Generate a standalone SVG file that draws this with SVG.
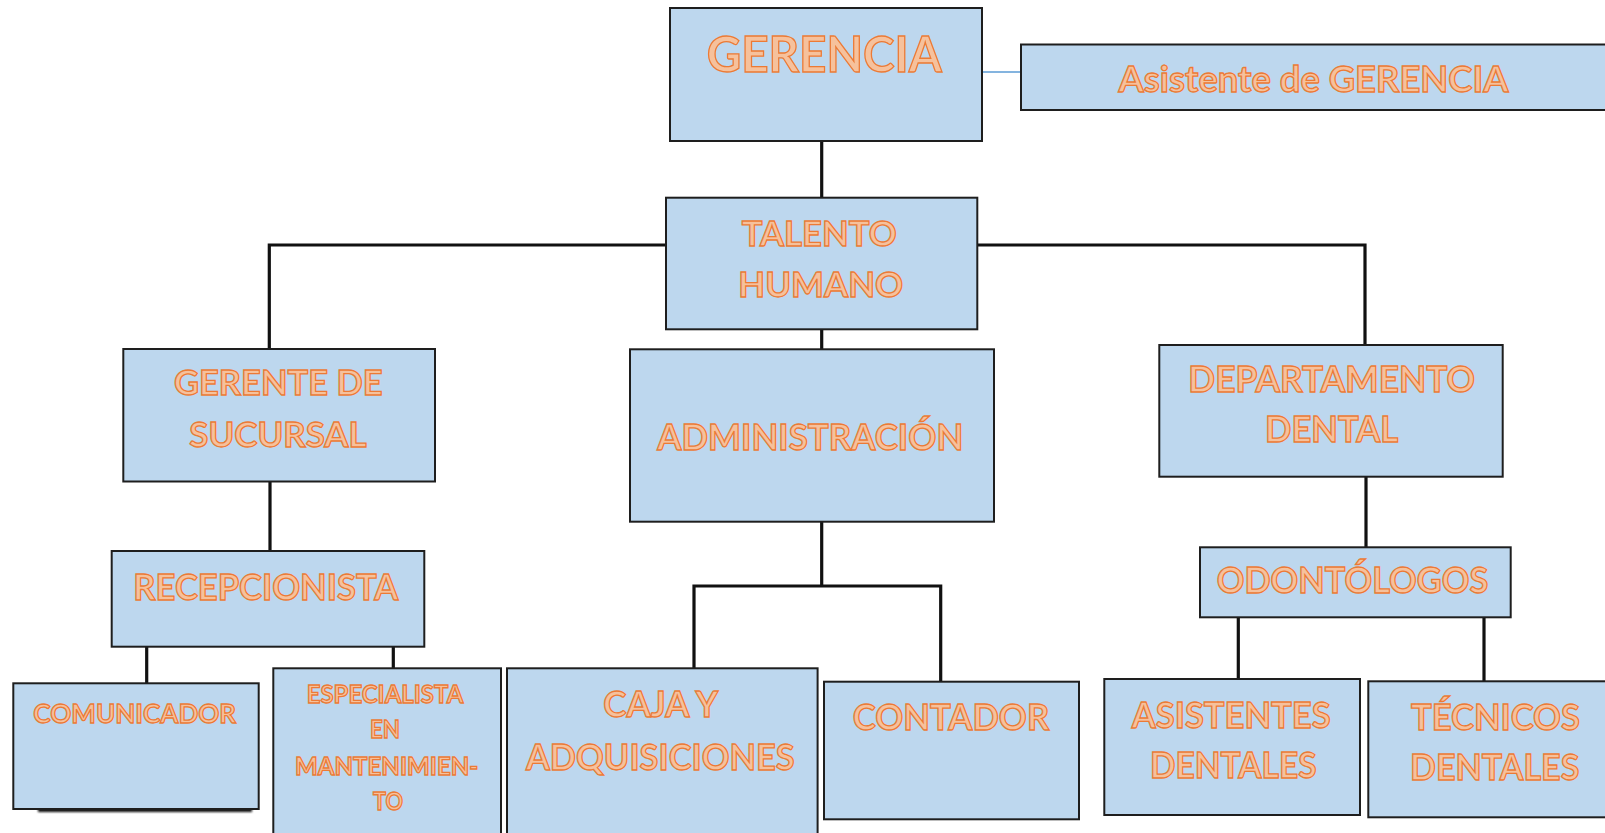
<svg xmlns="http://www.w3.org/2000/svg" width="1605" height="833" viewBox="0 0 1605 833">
<defs>
<style>
.box{fill:#bdd7ee;stroke:#1e1e1e;stroke-width:2}
.con{fill:none;stroke:#111;stroke-width:3.2;stroke-linejoin:miter}
.t{font-family:Lato,"Open Sans","Liberation Sans",sans-serif;fill:#f6c19c;stroke:#ec7a35;stroke-width:1.3;text-anchor:middle;font-weight:bold}
</style>
<filter id="blur" x="-10%" y="-200%" width="120%" height="500%"><feGaussianBlur stdDeviation="1.2"/></filter>
</defs>
<rect width="1605" height="833" fill="#fff"/>
<g id="connectors">
<line x1="982" y1="72" x2="1021" y2="72" stroke="#5b9bd5" stroke-width="1.6"/>
<path class="con" d="M821.7 141 V197.7"/>
<path class="con" d="M666 245 H269.3 V349"/>
<path class="con" d="M977.3 245 H1365 V345"/>
<path class="con" d="M821.7 329.3 V349.3"/>
<path class="con" d="M270 481.5 V551"/>
<path class="con" d="M146.7 646.7 V683.3"/>
<path class="con" d="M393.3 646.7 V668.3"/>
<path class="con" d="M821.7 521.7 V586 M694 668.3 V586 H940.7 V681.7"/>
<path class="con" d="M1366 476.7 V547.3"/>
<path class="con" d="M1238.3 617.3 V679"/>
<path class="con" d="M1484 617.3 V681.3"/>
</g>
<g id="gerencia">
<rect class="box" x="670" y="8" width="312" height="133"/>
<text class="t" x="824.2" y="71.7" font-size="49" textLength="235" lengthAdjust="spacingAndGlyphs">GERENCIA</text>
</g>
<g id="asistente-gerencia">
<rect class="box" x="1021" y="44.5" width="600" height="65.5"/>
<text class="t" x="1313.5" y="91.7" font-size="36" textLength="390" lengthAdjust="spacingAndGlyphs">Asistente de GERENCIA</text>
</g>
<g id="talento-humano">
<rect class="box" x="666" y="197.7" width="311.3" height="131.6"/>
<text class="t" x="819.2" y="246" font-size="35" textLength="155" lengthAdjust="spacingAndGlyphs">TALENTO</text>
<text class="t" x="820.8" y="296.7" font-size="35" textLength="165" lengthAdjust="spacingAndGlyphs">HUMANO</text>
</g>
<g id="gerente-sucursal">
<rect class="box" x="123.3" y="349" width="311.7" height="132.5"/>
<text class="t" x="278.3" y="395" font-size="34" textLength="208.7" lengthAdjust="spacingAndGlyphs">GERENTE DE</text>
<text class="t" x="278" y="446.7" font-size="34" textLength="177.4" lengthAdjust="spacingAndGlyphs">SUCURSAL</text>
</g>
<g id="administracion">
<rect class="box" x="630" y="349.3" width="364" height="172.4"/>
<text class="t" x="810.3" y="450" font-size="36" textLength="306" lengthAdjust="spacingAndGlyphs">ADMINISTRACIÓN</text>
</g>
<g id="departamento-dental">
<rect class="box" x="1159.3" y="345" width="343.4" height="131.7"/>
<text class="t" x="1331.7" y="391.7" font-size="36" textLength="286.7" lengthAdjust="spacingAndGlyphs">DEPARTAMENTO</text>
<text class="t" x="1331.7" y="441.7" font-size="36" textLength="133.3" lengthAdjust="spacingAndGlyphs">DENTAL</text>
</g>
<g id="recepcionista">
<rect class="box" x="111.7" y="551" width="312.6" height="95.7"/>
<text class="t" x="265.8" y="600" font-size="36" textLength="265" lengthAdjust="spacingAndGlyphs">RECEPCIONISTA</text>
</g>
<g id="odontologos">
<rect class="box" x="1200" y="547.3" width="310.7" height="70"/>
<text class="t" x="1352.5" y="593.3" font-size="36" textLength="271.6" lengthAdjust="spacingAndGlyphs">ODONTÓLOGOS</text>
</g>
<g id="comunicador">
<rect x="38" y="808" width="214" height="4" fill="#111" filter="url(#blur)"/>
<rect class="box" x="13.3" y="683.3" width="245.4" height="125.7"/>
<text class="t" x="134.7" y="723.3" font-size="27" textLength="202.7" lengthAdjust="spacingAndGlyphs">COMUNICADOR</text>
</g>
<g id="especialista">
<rect class="box" x="273.3" y="668.3" width="227.7" height="175"/>
<text class="t" x="385" y="702.7" font-size="24" textLength="156.6" lengthAdjust="spacingAndGlyphs">ESPECIALISTA</text>
<text class="t" x="385" y="738.3" font-size="24" textLength="30" lengthAdjust="spacingAndGlyphs">EN</text>
<text class="t" x="386.7" y="775" font-size="24" textLength="183.3" lengthAdjust="spacingAndGlyphs">MANTENIMIEN-</text>
<text class="t" x="388" y="810" font-size="24" textLength="30" lengthAdjust="spacingAndGlyphs">TO</text>
</g>
<g id="caja-adquisiciones">
<rect class="box" x="507" y="668.3" width="310.6" height="175"/>
<text class="t" x="660.7" y="716.7" font-size="36" textLength="114.8" lengthAdjust="spacingAndGlyphs">CAJA Y</text>
<text class="t" x="660.3" y="770" font-size="36" textLength="268.7" lengthAdjust="spacingAndGlyphs">ADQUISICIONES</text>
</g>
<g id="contador">
<rect class="box" x="824" y="681.7" width="255" height="137.6"/>
<text class="t" x="951" y="730" font-size="36" textLength="196.4" lengthAdjust="spacingAndGlyphs">CONTADOR</text>
</g>
<g id="asistentes-dentales">
<rect class="box" x="1104.3" y="679" width="255.7" height="136"/>
<text class="t" x="1231.2" y="728.3" font-size="36" textLength="199" lengthAdjust="spacingAndGlyphs">ASISTENTES</text>
<text class="t" x="1233.3" y="778.3" font-size="36" textLength="166.7" lengthAdjust="spacingAndGlyphs">DENTALES</text>
</g>
<g id="tecnicos-dentales">
<rect class="box" x="1368.3" y="681.3" width="260" height="136"/>
<text class="t" x="1495.5" y="730" font-size="36" textLength="169" lengthAdjust="spacingAndGlyphs">TÉCNICOS</text>
<text class="t" x="1494.7" y="780" font-size="36" textLength="169.3" lengthAdjust="spacingAndGlyphs">DENTALES</text>
</g>
</svg>
